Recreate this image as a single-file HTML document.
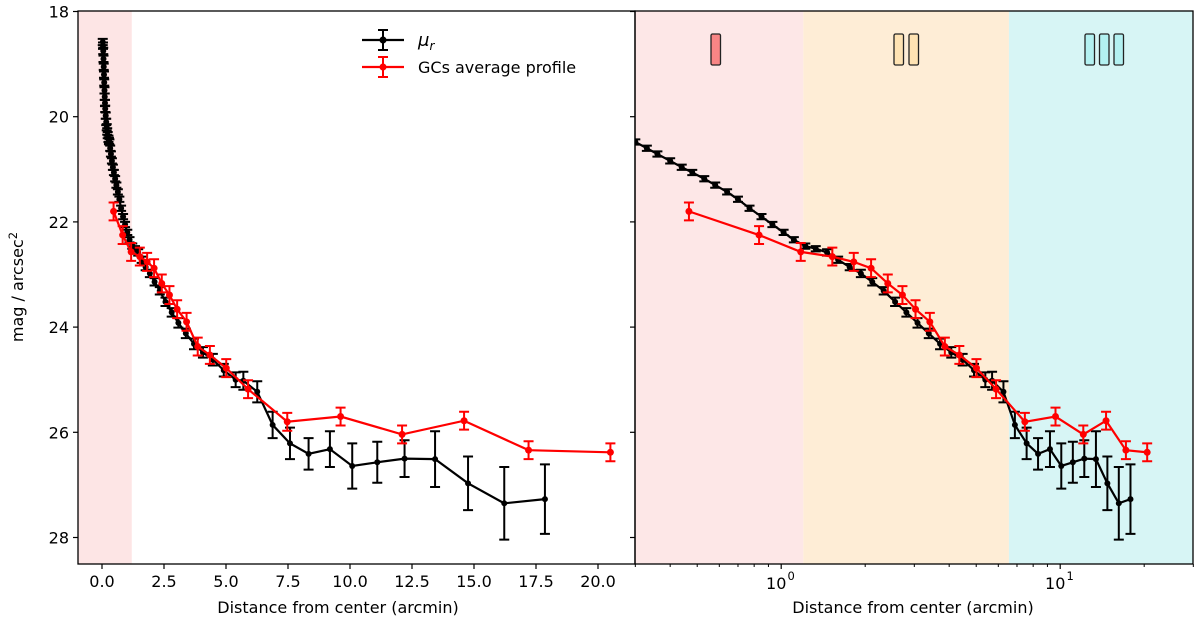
<!DOCTYPE html>
<html><head><meta charset="utf-8"><style>
html,body{margin:0;padding:0;background:#fff;}
svg{display:block;font-family:"DejaVu Sans","Liberation Sans",sans-serif;}
</style></head><body>
<svg id="chart" width="1200" height="631" viewBox="0 0 1200 631" xmlns="http://www.w3.org/2000/svg"></svg>
<script>
const blackDist=[0.03,0.04,0.05,0.06,0.07,0.08,0.09,0.10,0.11,0.12,0.13,0.15,0.17,0.19,0.21,0.23,0.26,0.28,
0.30,0.33,0.36,0.40,0.44,0.48,0.53,0.58,0.64,0.70,0.77,0.85,0.93,1.02,1.11,1.22,1.33,1.46,1.60,1.76,1.93,2.12,2.33,2.56,2.81,3.08,3.38,3.71,4.07,4.47,4.91,5.39,5.70,6.26,
6.88,7.58,8.33,9.19,10.09,11.1,12.2,13.43,14.76,16.22,17.86];
const blackMag=[18.58,18.65,18.75,18.9,19.05,19.2,19.35,19.5,19.62,19.74,19.85,19.98,20.1,20.2,20.28,20.35,20.42,20.46,
20.48,20.60,20.71,20.84,20.96,21.06,21.18,21.30,21.43,21.57,21.74,21.90,22.05,22.20,22.34,22.46,22.51,22.58,22.72,22.86,22.98,23.14,23.31,23.52,23.72,23.92,24.12,24.32,24.48,24.62,24.82,25.00,25.02,25.23,
25.86,26.21,26.41,26.32,26.64,26.57,26.50,26.51,26.97,27.35,27.27];
const blackErr=[0.06,0.06,0.06,0.06,0.06,0.06,0.06,0.06,0.06,0.06,0.06,0.06,0.06,0.06,0.06,0.06,0.06,0.06,
0.05,0.05,0.05,0.05,0.05,0.05,0.05,0.05,0.05,0.05,0.05,0.05,0.05,0.05,0.05,0.05,0.05,0.06,0.06,0.06,0.07,0.07,0.07,0.08,0.08,0.09,0.09,0.1,0.1,0.11,0.12,0.14,0.17,0.2,
0.25,0.3,0.3,0.34,0.43,0.39,0.35,0.53,0.51,0.69,0.66];
const gcDist=[0.467,0.833,1.175,1.525,1.82,2.10,2.41,2.72,3.03,3.41,3.86,4.35,5.01,5.89,7.47,9.62,12.1,14.6,17.2,20.5];
const gcMag=[21.80,22.25,22.57,22.66,22.76,22.88,23.17,23.39,23.66,23.90,24.37,24.53,24.78,25.18,25.80,25.70,26.04,25.78,26.34,26.38];
const gcErr=[0.17,0.17,0.17,0.17,0.17,0.17,0.17,0.17,0.17,0.17,0.17,0.17,0.17,0.17,0.17,0.17,0.17,0.17,0.17,0.17];
const leftTicks=[0,2.5,5,7.5,10,12.5,15,17.5,20];
const leftTickLabels=["0.0","2.5","5.0","7.5","10.0","12.5","15.0","17.5","20.0"];
const yTicks=[18,20,22,24,26,28];
const logMajor=[1,10];
const logMinor=[0.3,0.4,0.5,0.6,0.7,0.8,0.9,2,3,4,5,6,7,8,9,20,30];
const regionBounds=[0.3,1.2,6.55,30];

const NS="http://www.w3.org/2000/svg";
const svg=document.getElementById('chart');
function mk(tag,attrs,parent){const e=document.createElementNS(NS,tag);for(const k in attrs)e.setAttribute(k,attrs[k]);(parent||svg).appendChild(e);return e;}
const TOP=11,BOT=564,L1=78,R1=635,L2=635,R2=1193;
const yS=m=>11.5+(m-18)*52.6;
const xL=d=>102+d*24.8;
const xR=d=>781.2+Math.log10(d)*279;
const FS=16;

const defs=mk('defs',{});
const c1=mk('clipPath',{id:'clipL'},defs);mk('rect',{x:L1,y:TOP,width:R1-L1,height:BOT-TOP},c1);
const c2=mk('clipPath',{id:'clipR'},defs);mk('rect',{x:L2,y:TOP,width:R2-L2,height:BOT-TOP},c2);

let s=mk('rect',{x:L1,y:TOP,width:xL(1.2)-L1,height:BOT-TOP,fill:'#fde5e5'});

const regColors=['#fde7e7','#feedd6','#d7f5f5'];
const regNames=['region-i-shade','region-ii-shade','region-iii-shade'];
for(let i=0;i<3;i++){
  const r=mk('rect',{x:xR(regionBounds[i]),y:TOP,width:xR(regionBounds[i+1])-xR(regionBounds[i]),height:BOT-TOP,fill:regColors[i]});
  
  
}
function boxes(xs,fill,name){const g=mk('g',{});
 xs.forEach(x=>mk('rect',{x:x,y:34,width:9.5,height:31,rx:1.5,fill:fill,stroke:'#222','stroke-width':1.3},g));}
boxes([711],'#f88585','region-i-label');
boxes([894,909],'#ffe3b3','region-ii-label');
boxes([1085,1099.5,1114],'#b3f1f1','region-iii-label');

function series(dist,mag,err,xf,clip,color,name,ms){
  const g=mk('g',{'clip-path':'url(#'+clip+')'});
  
  let d='';
  for(let i=0;i<dist.length;i++){d+=(i?'L':'M')+xf(dist[i]).toFixed(2)+','+yS(mag[i]).toFixed(2);}
  mk('path',{d:d,fill:'none',stroke:color,'stroke-width':2.2},g);
  for(let i=0;i<dist.length;i++){
    const x=xf(dist[i]),y1=yS(mag[i]-err[i]),y2=yS(mag[i]+err[i]);
    mk('path',{d:`M${x},${y1}V${y2}M${x-5},${y1}H${x+5}M${x-5},${y2}H${x+5}`,stroke:color,'stroke-width':2,fill:'none'},g);
    const c=mk('circle',{cx:x,cy:yS(mag[i]),r:ms,fill:color},g);
    
    
  }
}
series(blackDist,blackMag,blackErr,xL,'clipL','#000','mu-r-series-linear',3);
series(gcDist,gcMag,gcErr,xL,'clipL','#f00','gc-series-linear',3.5);
series(blackDist,blackMag,blackErr,xR,'clipR','#000','mu-r-series-log',3);
series(gcDist,gcMag,gcErr,xR,'clipR','#f00','gc-series-log',3.5);

let f=mk('rect',{x:L1,y:TOP,width:R1-L1,height:BOT-TOP,fill:'none',stroke:'#000','stroke-width':1.3});

f=mk('rect',{x:L2,y:TOP,width:R2-L2,height:BOT-TOP,fill:'none',stroke:'#000','stroke-width':1.3});


yTicks.forEach(v=>{
  const y=yS(v);
  mk('line',{x1:L1-5,x2:L1,y1:y,y2:y,stroke:'#000','stroke-width':1.2});
  mk('line',{x1:L2-5,x2:L2,y1:y,y2:y,stroke:'#000','stroke-width':1.2});
  const t=mk('text',{x:L1-9,y:y+6,'text-anchor':'end','font-size':FS,fill:'#000'});t.textContent=v;
  
});
leftTicks.forEach((v,i)=>{
  const x=xL(v);
  mk('line',{x1:x,x2:x,y1:BOT,y2:BOT+5,stroke:'#000','stroke-width':1.2});
  const t=mk('text',{x:x,y:BOT+23,'text-anchor':'middle','font-size':FS,fill:'#000'});t.textContent=leftTickLabels[i];
  
});
logMinor.forEach(v=>{const x=xR(v);mk('line',{x1:x,x2:x,y1:BOT,y2:BOT+3,stroke:'#000','stroke-width':1});});
logMajor.forEach((v,i)=>{
  const x=xR(v);
  mk('line',{x1:x,x2:x,y1:BOT,y2:BOT+5,stroke:'#000','stroke-width':1.2});
  const t=mk('text',{x:x-5,y:BOT+25,'text-anchor':'middle','font-size':FS,fill:'#000'});
  t.textContent='10';
  
  const sup=mk('text',{x:x+10,y:BOT+16,'text-anchor':'middle','font-size':11.5,fill:'#000'});sup.textContent=String(i);
});
let t=mk('text',{x:338,y:613,'text-anchor':'middle','font-size':FS,fill:'#000'});
t.textContent='Distance from center (arcmin)';
t=mk('text',{x:913,y:613,'text-anchor':'middle','font-size':FS,fill:'#000'});
t.textContent='Distance from center (arcmin)';
t=mk('text',{x:0,y:0,'text-anchor':'middle','font-size':FS,fill:'#000',transform:'translate(23,287) rotate(-90)'});

t.innerHTML='mag / arcsec<tspan dy="-6" font-size="11.5">2</tspan>';

const lg=mk('g',{});
[[40,'#000','mu'],[67,'#f00','GCs average profile']].forEach(([y,c,l])=>{
  const e=mk('g',{},lg);
  mk('line',{x1:362,x2:404,y1:y,y2:y,stroke:c,'stroke-width':2.2},e);
  mk('path',{d:`M383,${y-10}V${y+10}M378,${y-10}H388M378,${y+10}H388`,stroke:c,'stroke-width':2,fill:'none'},e);
  mk('circle',{cx:383,cy:y,r:3.5,fill:c},e);
  const tx=mk('text',{x:418,y:y+6,'font-size':FS,fill:'#000'},e);
  if(l==='mu'){tx.innerHTML='<tspan font-style="italic" font-size="18">μ</tspan><tspan font-style="italic" font-size="12" dy="4">r</tspan>';}
  else tx.textContent=l;
});
</script>
</body></html>
